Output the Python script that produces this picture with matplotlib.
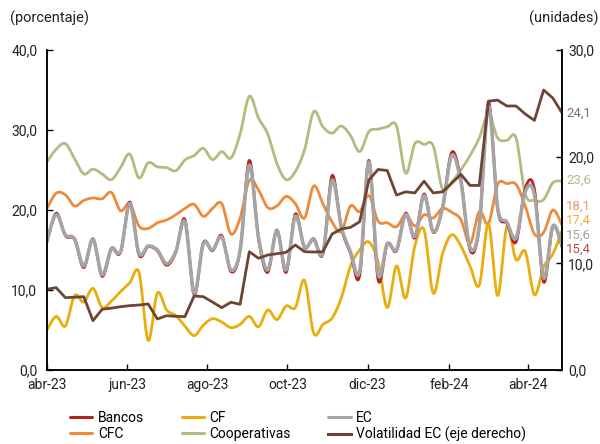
import numpy as np
import pandas as pd
import matplotlib
matplotlib.use("Agg")
import matplotlib.pyplot as plt
import matplotlib.dates as mdates

plt.rcParams['font.family'] = ['Roboto', 'DejaVu Sans']

# Weekly observations
dates = pd.date_range("2023-04-01", periods=57, freq="7D")

bancos = [16.0, 19.6, 16.8, 16.3, 12.8, 16.4, 11.7, 15.1, 14.7, 21.0,
          14.4, 15.4, 14.9, 13.1, 14.7, 18.8, 9.4, 15.9, 14.9, 16.8,
          12.3, 14.9, 26.2, 16.4, 12.2, 17.5, 12.2, 19.5, 15.3, 16.4,
          14.5, 24.3, 17.8, 14.6, 11.8, 26.2, 11.3, 15.7, 14.9, 19.6,
          16.5, 22.0, 17.2, 20.3, 27.2, 23.8, 15.0, 17.9, 33.5, 20.1,
          18.3, 16.0, 22.7, 22.6, 11.0, 17.9, 15.4]
ec = [16.2, 19.4, 16.9, 16.4, 13.0, 16.3, 11.9, 15.2, 14.8, 20.8,
      14.6, 15.5, 15.0, 13.3, 14.8, 18.5, 9.6, 15.8, 15.0, 16.6,
      12.5, 15.0, 25.6, 16.6, 12.5, 17.4, 12.5, 19.2, 15.4, 16.3,
      14.6, 23.7, 17.9, 14.8, 12.4, 26.0, 12.0, 15.8, 15.0, 19.4,
      16.7, 21.8, 17.3, 20.2, 26.8, 23.5, 15.3, 18.0, 33.0, 20.3,
      18.5, 16.5, 22.3, 21.9, 11.5, 18.0, 15.6]
cf = [5.0, 6.7, 5.5, 9.3, 8.5, 10.2, 7.8, 8.6, 9.8, 10.9,
      12.2, 3.7, 9.6, 7.5, 6.8, 5.5, 4.3, 5.6, 6.4, 6.0,
      5.3, 5.7, 6.7, 5.4, 7.5, 6.3, 8.0, 7.8, 11.2, 4.6,
      5.7, 6.5, 9.0, 13.0, 15.0, 16.0, 13.5, 7.8, 13.0, 9.0,
      15.5, 17.5, 9.6, 14.5, 16.9, 15.5, 13.0, 10.6, 18.3, 9.3,
      17.9, 13.8, 14.8, 9.4, 12.9, 14.5, 17.4]
cfc = [20.2, 22.1, 21.9, 20.5, 21.2, 21.5, 21.4, 22.2, 19.9, 20.8,
       18.0, 17.7, 18.4, 18.75, 19.4, 20.2, 20.7, 19.2, 20.2, 20.8,
       17.0, 19.0, 23.7, 22.5, 20.3, 20.5, 21.7, 20.8, 19.0, 23.0,
       20.8, 18.5, 17.3, 20.5, 19.8, 21.8, 18.6, 18.4, 17.9, 19.4,
       18.0, 19.4, 19.0, 20.2, 19.7, 18.8, 15.8, 19.8, 18.3, 23.2,
       23.3, 23.2, 20.5, 17.0, 17.2, 20.0, 18.1]
coop = [26.0, 27.6, 28.3, 26.4, 24.5, 25.1, 24.5, 23.8, 25.3, 27.0,
        24.0, 25.9, 25.4, 25.3, 24.9, 26.25, 26.8, 27.7, 26.3, 27.3,
        26.5, 29.5, 34.2, 31.5, 29.5, 25.8, 23.8, 24.8, 27.5, 32.3,
        30.4, 29.6, 30.5, 29.3, 27.3, 29.8, 30.1, 30.4, 30.5, 24.6,
        28.3, 28.2, 28.0, 22.6, 23.5, 25.0, 26.8, 29.0, 32.0, 29.0,
        28.7, 29.0, 22.0, 21.2, 21.3, 23.4, 23.6]
vol = [7.57, 7.72, 6.78, 6.82, 6.87, 4.62, 5.69, 5.8, 5.93, 6.03,
       6.09, 6.19, 4.78, 5.09, 5.03, 5.0, 6.94, 6.87, 6.37, 5.84,
       6.35, 6.16, 11.09, 10.47, 10.78, 10.9, 11.03, 11.72, 11.09, 11.06,
       11.09, 12.75, 13.22, 13.37, 13.9, 17.8, 18.8, 18.7, 16.4, 16.7,
       16.6, 17.7, 16.6, 16.7, 17.5, 18.35, 17.3, 17.3, 25.2, 25.3,
       24.75, 24.75, 24.0, 23.4, 26.25, 25.5, 24.1]

left_ticks = [0, 10, 20, 30, 40]
right_ticks = [0, 10, 20, 30]
month_ticks = ["2023-04-01", "2023-06-01", "2023-08-01", "2023-10-01",
               "2023-12-01", "2024-02-01", "2024-04-01"]
month_labels = ["abr-23", "jun-23", "ago-23", "oct-23", "dic-23", "feb-24", "abr-24"]

C_BANCOS = "#b3241c"
C_CF = "#e9ad0c"
C_EC = "#a5a5a5"
C_CFC = "#ee8a3a"
C_COOP = "#b7ba80"
C_VOL = "#6e4535"


def smooth(x, y, n=24):
    """Catmull-Rom style cubic Bezier through every point."""
    x = np.asarray(x, float)
    y = np.asarray(y, float)
    px = np.concatenate([[x[0]], x, [x[-1]]])
    py = np.concatenate([[y[0]], y, [y[-1]]])
    t = np.linspace(0, 1, n, endpoint=False)[:, None]
    xs, ys = [], []
    for i in range(1, len(px) - 2):
        p0 = np.array([px[i], py[i]])
        p3 = np.array([px[i + 1], py[i + 1]])
        c1 = p0 + (np.array([px[i + 1], py[i + 1]]) - np.array([px[i - 1], py[i - 1]])) / 6
        c2 = p3 - (np.array([px[i + 2], py[i + 2]]) - np.array([px[i], py[i]])) / 6
        seg = ((1 - t) ** 3) * p0 + 3 * ((1 - t) ** 2) * t * c1 + 3 * (1 - t) * t ** 2 * c2 + t ** 3 * p3
        xs.append(seg[:, 0])
        ys.append(seg[:, 1])
    xs.append([x[-1]])
    ys.append([y[-1]])
    return np.concatenate(xs), np.concatenate(ys)


xn = mdates.date2num(dates)

fig = plt.figure(figsize=(6, 4.44), dpi=100)
ax = fig.add_axes([0.0783, 0.1667, 0.8584, 0.7207])

lw = 2.0
for vals, col, lab, w in [(coop, C_COOP, "Cooperativas", lw),
                          (cfc, C_CFC, "CFC", lw),
                          (cf, C_CF, "CF", lw),
                          (bancos, C_BANCOS, "Bancos", 2.0),
                          (ec, C_EC, "EC", 2.5)]:
    sx, sy = smooth(xn, vals)
    ax.plot(sx, sy, color=col, lw=w, label=lab, solid_capstyle="round")

ax2 = ax.twinx()
ax2.plot(xn, vol, color=C_VOL, lw=lw, label="Volatilidad EC (eje derecho)")

ax.set_xlim(xn[0], xn[-1])
ax.set_ylim(0, 40)
ax2.set_ylim(0, 30)

ax.set_yticks(left_ticks)
ax.set_yticklabels([f"{v:.1f}".replace(".", ",") for v in left_ticks])
ax2.set_yticks(right_ticks)
ax2.set_yticklabels([f"{v:.1f}".replace(".", ",") for v in right_ticks])
ax.set_xticks(mdates.date2num(pd.to_datetime(month_ticks)))
ax.set_xticklabels(month_labels)

for a in (ax, ax2):
    a.spines["top"].set_visible(False)
    for s in ("left", "right", "bottom"):
        a.spines[s].set_linewidth(1.1)
        a.spines[s].set_color("black")
ax.tick_params(axis="y", direction="in", length=4, width=1, labelsize=10, pad=7, colors="black")
ax.tick_params(axis="x", direction="in", length=4, width=1, labelsize=10, pad=6, colors="black")
ax2.tick_params(axis="y", direction="in", length=4, width=1, labelsize=10, pad=4.5, colors="black")
for lbl in ax.get_xticklabels() + ax.get_yticklabels() + ax2.get_yticklabels():
    lbl.set_color("#222222")

# End-of-series value labels
end_labels = [(ax, coop[-1], 23.75, "#b5b884"),
              (ax, cfc[-1], 20.45, "#f0965a"),
              (ax, cf[-1], 18.7, "#eeb32a"),
              (ax, ec[-1], 16.85, "#a0a0a0"),
              (ax, bancos[-1], 15.15, "#c24a44"),
              (ax2, vol[-1], vol[-1], "#8c6b62")]
for a, val, ypos, col in end_labels:
    a.annotate(f"{val:.1f}".replace(".", ","), xy=(1.0, ypos),
               xycoords=("axes fraction", "data"), xytext=(3, 0),
               textcoords="offset points", va="center", ha="left",
               fontsize=9.5, color=col, annotation_clip=False)

fig.text(0.017, 0.958, "(porcentaje)", fontsize=10.5, color="#222222", ha="left", va="center")
fig.text(0.997, 0.958, "(unidades)", fontsize=10.5, color="#222222", ha="right", va="center")

h1, l1 = ax.get_legend_handles_labels()
h2, l2 = ax2.get_legend_handles_labels()
hd = dict(zip(l1 + l2, h1 + h2))
order = ["Bancos", "CFC", "CF", "Cooperativas", "EC", "Volatilidad EC (eje derecho)"]
leg = fig.legend([hd[k] for k in order], order, ncol=3, loc="center",
                 bbox_to_anchor=(0.497, 0.039), frameon=False, fontsize=10,
                 handlelength=1.6, handletextpad=0.4, columnspacing=2.7,
                 labelspacing=0.1, borderpad=0.1)
for h in leg.legend_handles:
    h.set_linewidth(2.2)

fig.savefig("out.png", dpi=100)
